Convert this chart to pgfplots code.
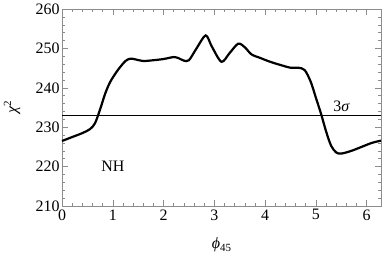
\documentclass[border=0pt]{standalone}
\usepackage{pgfplots}
\pgfplotsset{compat=1.18}
\usepackage{fontspec}
\setmainfont{Liberation Serif}
\begin{document}
\begin{tikzpicture}
\begin{axis}[name=ax,
  scale only axis, width=319bp, height=197bp,
  xmin=0, xmax=6.2832, ymin=210, ymax=260,
  xtick={0,1,2,3,4,5,6}, ytick={210,220,230,240,250,260},
  minor x tick num=4, minor y tick num=4,
  tick align=inside, major tick length=6bp, minor tick length=3.5bp,
  axis line style={draw=black!45},
  every tick/.style={draw=black!45, line width=0.5bp},
  tick label style={font=\fontsize{16}{18}\selectfont, /pgf/number format/assume math mode=true},
  /pgf/number format/assume math mode=true,
  xticklabel style={yshift=0bp},
  yticklabel style={xshift=1bp},
  xlabel={\fontsize{16}{18}\selectfont\itshape ϕ\raisebox{-0.35ex}{\fontsize{11}{12}\selectfont\upshape 45}},
  ylabel={\fontsize{16}{18}\selectfont\itshape χ\raisebox{0.8ex}{\fontsize{11}{12}\selectfont\upshape 2}},
  xlabel style={at={(axis description cs:0.5,0)}, anchor=center, yshift=-39bp},
  ylabel style={at={(axis description cs:0,0.5)}, anchor=center, yshift=50bp},
  clip=false,
]
\addplot[black, line width=2.2bp, smooth, tension=0.5] coordinates {
(0,226.5) (0.2,227.5) (0.4,228.5) (0.55,229.5) (0.65,231) (0.75,234.5) (0.85,238.5) (0.95,241.5) (1.1,244.5) (1.25,246.8) (1.35,247.4) (1.45,247.2) (1.6,246.8) (1.8,247) (2.0,247.3) (2.2,247.8) (2.3,247.5) (2.4,246.9) (2.5,247) (2.65,250) (2.83,253.3) (2.95,250.5) (3.14,246.6) (3.3,248.8) (3.47,251.2) (3.6,250.3) (3.73,248.5) (3.9,247.6) (4.1,246.6) (4.3,245.8) (4.5,245.1) (4.65,245.1) (4.78,244.5) (4.9,241.5) (5.0,237.5) (5.1,233.5) (5.2,229) (5.3,225.3) (5.4,223.6) (5.5,223.3) (5.7,224) (5.9,225) (6.1,226) (6.2832,226.6)
};
\addplot[black, line width=0.8bp] coordinates {(0,233.1) (6.2832,233.1)};
\node at (axis cs:1.0,220) {\fontsize{16}{18}\selectfont NH};
\node at (axis cs:5.5,235.3) {\fontsize{16}{18}\selectfont 3\itshape σ};
\end{axis}
\pgfresetboundingbox
\path (ax.south west) ++(-62bp,-49bp) rectangle ++(382bp,255bp);
\end{tikzpicture}
\end{document}
